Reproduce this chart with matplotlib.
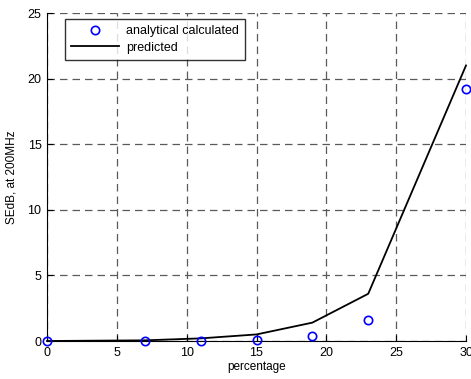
import matplotlib
matplotlib.use("Agg")
import matplotlib.pyplot as plt

plt.rcParams["font.family"] = ["Liberation Sans", "DejaVu Sans"]

x_pct = [0, 7, 11, 15, 19, 23, 30]
se_analytical = [0.0, 0.0, 0.0, 0.1, 0.35, 1.6, 19.2]
se_predicted = [0.0, 0.05, 0.2, 0.5, 1.4, 3.6, 21.0]

GRID = "#5a5a5a"

fig = plt.figure(figsize=(4.71, 3.79), dpi=100)
ax = fig.add_axes([47/471, 1 - 341/379, (466-47)/471, (341-13)/379])

ax.plot(x_pct, se_analytical, "o", ms=6, mfc="none", mec="blue", mew=1.2,
        label="analytical calculated", zorder=4, clip_on=False)
ax.plot(x_pct, se_predicted, "-", color="black", lw=1.3, label="predicted",
        zorder=3, clip_on=False)

ax.set_xlim(0, 30); ax.set_ylim(0, 25)
ax.set_xticks([0, 5, 10, 15, 20, 25, 30])
ax.set_yticks([0, 5, 10, 15, 20, 25])
ax.grid(True, ls=(0, (6, 4)), color=GRID, lw=0.9)
for side in ("top", "right"):
    ax.spines[side].set_visible(False)
ax.tick_params(direction="in", length=4, labelsize=9, pad=4)
ax.set_xlabel("percentage", fontsize=8.5, labelpad=2)
ax.set_ylabel("SEdB, at 200MHz", fontsize=8.5, labelpad=7)

leg = ax.legend(loc="upper left", bbox_to_anchor=(18/419, 1 - 6/328), fontsize=9,
                frameon=True, fancybox=False, edgecolor="black",
                borderaxespad=0, handlelength=3.8, handletextpad=0.6,
                borderpad=0.5, labelspacing=0.35)
leg.get_frame().set_linewidth(1.0)

fig.savefig("out.png", dpi=100)
